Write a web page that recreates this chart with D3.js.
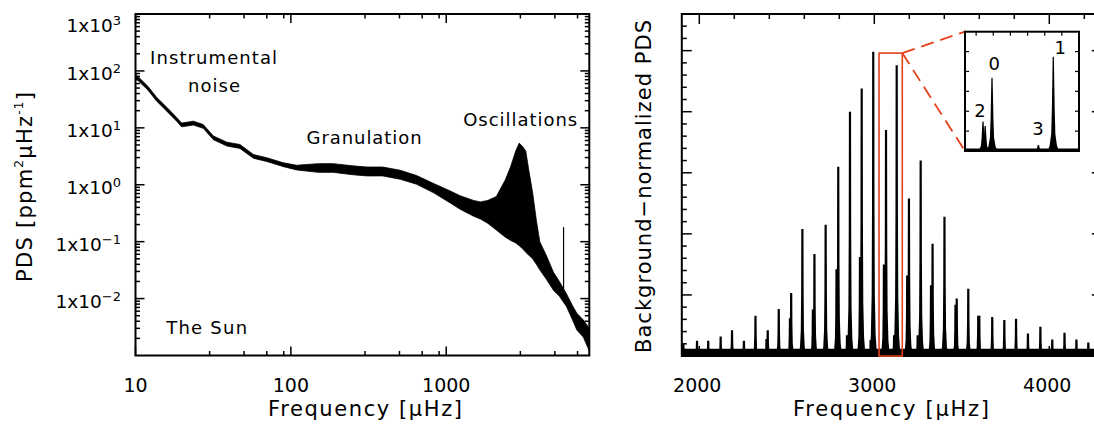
<!DOCTYPE html>
<html><head><meta charset="utf-8">
<script src="https://cdn.jsdelivr.net/npm/d3@7"></script>
<style>
html,body{margin:0;padding:0;background:#fff;}
svg{display:block;font-family:"DejaVu Sans",sans-serif;}
</style></head><body>
<svg id="chart" width="1094" height="428"></svg>
<script>
// ---------------- data: left panel (solar power density spectrum, log-log) ----------------
const pdsFreq = [10, 11, 12, 13.7, 15.9, 18.4, 19.8, 23.6, 27.3, 31.7, 38.7, 47, 57.4, 70, 89.6, 109, 150, 187, 250, 309, 390, 505, 645, 830, 1060, 1230, 1500, 1660, 1850, 2100, 2400, 2600, 2800, 2950, 3100, 3250, 3400, 3600, 3800, 4000, 4400, 4900, 5350, 5950, 6500, 6930, 7630, 8333];
const pdsLow  = [75, 58.3, 46.3, 29.4, 19.6, 13.1, 10.4, 11.2, 9.8, 6.2, 4.8, 4.35, 2.92, 2.56, 2.08, 1.82, 1.65, 1.65, 1.5, 1.43, 1.43, 1.25, 1.02, 0.72, 0.48, 0.37, 0.28, 0.25, 0.21, 0.16, 0.12, 0.105, 0.095, 0.085, 0.075, 0.065, 0.058, 0.05, 0.04, 0.032, 0.022, 0.014, 0.011, 0.0072, 0.0042, 0.0028, 0.0021, 0.0012];
const pdsHigh = [87.5, 68, 54, 34.2, 22.9, 15.2, 12.1, 13.1, 11.4, 7.2, 5.6, 5.1, 3.4, 2.98, 2.43, 2.2, 2.35, 2.35, 2.15, 2.05, 2.05, 1.8, 1.45, 1.05, 0.78, 0.64, 0.53, 0.5, 0.53, 0.62, 1.22, 2.1, 3.9, 5.4, 4.7, 3.9, 1.8, 0.72, 0.24, 0.1, 0.058, 0.029, 0.02, 0.012, 0.0075, 0.0055, 0.0042, 0.003];
const spikeFreq = [5690];
const spikeTop = [0.18];
const spikeBottom = [0.014];
const leftXTickValues = [10, 100, 1000];
const leftXTickLabels = ["10", "100", "1000"];
const leftYTickExponents = [3, 2, 1, 0, -1, -2];
const leftAnnotations = [
  {text: "Instrumental", f: 31.8, v: 132, w: 127},
  {text: "noise", f: 32, v: 43, w: 52},
  {text: "Granulation", f: 296, v: 5.2, w: 115},
  {text: "Oscillations", f: 2992, v: 10.8, w: 114},
  {text: "The Sun", f: 28.7, v: 0.00239, w: 81}
];

// ---------------- data: right panel (background-normalized PDS) ----------------
const modeFreq   = [1909, 1987, 2051, 2122, 2187, 2255, 2321, 2391, 2454, 2525, 2589, 2658, 2722, 2794, 2861, 2928, 2994, 3067, 3128, 3198, 3265, 3333, 3401, 3471, 3537, 3600, 3674, 3743, 3810, 3878, 3949, 4017, 4087, 4155, 4223];
const modeHeight = [1.0, 1.25, 1.25, 1.6, 2.1, 1.25, 3.3, 2.1, 3.85, 5.15, 10.4, 8.35, 10.75, 15.5, 20.0, 21.9, 24.9, 18.5, 23.8, 12.9, 16.0, 9.2, 11.4, 4.7, 5.5, 3.3, 3.2, 2.95, 3.05, 1.85, 2.4, 1.35, 1.9, 1.35, 1.1];
const companionFreq   = [2384, 2518, 2649, 2784, 2844, 2918, 2979, 3055, 3113, 3188, 3248, 3324, 3464, 3594];
const companionHeight = [1.4, 3.1, 3.8, 7.1, 1.7, 8.1, 1.3, 7.5, 1.7, 6.6, 1.7, 5.8, 4.2, 3.3];
const floorFreq  = [1900, 4300];
const floorLevel = [0.6, 0.6];
const rightXTickLabels = ["2000", "3000", "4000"];
const zoomBox = {f0: 3027, f1: 3160, top: 24.8};

// inset (zoom on one radial order)
const insetFreq   = [3048, 3050.5, 3058.5, 3112.6, 3130];
const insetHeight = [7.4, 6.3, 18.4, 1.5, 23.7];
const insetFloor  = [0.65, 0.65];
const insetLabels = ["2", "0", "3", "1"];
const insetLabelFreq = [3044.5, 3061, 3112, 3138];
const insetLabelVal  = [8.6, 20.4, 3.9, 24.4];

// ---------------- drawing ----------------
const svg = d3.select("#chart");
const RED = "#e4411b";

function sup(sel, base, exp, supSize, rise) {
  sel.append("tspan").text(base);
  sel.append("tspan").attr("font-size", supSize).attr("dy", -rise).text(exp);
}

// ===== LEFT PANEL =====
const L = {x0: 135.5, x1: 589.3, y0: 14, y1: 355.5};
const xL = d3.scaleLog().domain([10, 8333]).range([L.x0, L.x1]);
const yL = d3.scaleLog().domain([1e-3, 1e3]).range([L.y1, L.y0]);

const lp = svg.append("g");
lp.append("defs").append("clipPath").attr("id", "clipL")
  .append("rect").attr("x", L.x0).attr("y", L.y0).attr("width", L.x1 - L.x0).attr("height", L.y1 - L.y0);

const bandData = pdsFreq.map((f, i) => ({f, lo: pdsLow[i], hi: pdsHigh[i]}));
lp.append("path")
  .attr("clip-path", "url(#clipL)")
  .attr("d", d3.area().x(d => xL(d.f)).y0(d => yL(d.lo)).y1(d => yL(d.hi))(bandData))
  .attr("fill", "#000").attr("stroke", "#000").attr("stroke-width", 0.8).attr("stroke-linejoin", "round");

lp.selectAll(".spike").data(spikeFreq).join("line")
  .attr("x1", d => xL(d)).attr("x2", d => xL(d))
  .attr("y1", (d, i) => yL(spikeBottom[i])).attr("y2", (d, i) => yL(spikeTop[i]))
  .attr("stroke", "#000").attr("stroke-width", 1.2);

// ticks
const lMinorX = [];
[10, 100, 1000].forEach(dec => [3, 5, 7, 9].forEach(m => { if (dec * m <= 8333) lMinorX.push(dec * m); }));
const lMinorY = [];
[1e-3, 1e-2, 1e-1, 1, 10, 100].forEach(dec => [2, 3, 4, 5, 6, 7, 8, 9].forEach(m => lMinorY.push(dec * m)));

function tickLines(g, vals, scale, orient, len, x0, x1, y0, y1) {
  vals.forEach(v => {
    const p = scale(v);
    if (orient === "x") {
      g.append("line").attr("x1", p).attr("x2", p).attr("y1", y1).attr("y2", y1 - len);
      g.append("line").attr("x1", p).attr("x2", p).attr("y1", y0).attr("y2", y0 + len);
    } else {
      g.append("line").attr("y1", p).attr("y2", p).attr("x1", x0).attr("x2", x0 + len);
      g.append("line").attr("y1", p).attr("y2", p).attr("x1", x1).attr("x2", x1 - len);
    }
  });
}
const lt = lp.append("g").attr("stroke", "#000").attr("stroke-width", 1.5);
tickLines(lt, leftXTickValues, xL, "x", 9, L.x0, L.x1, L.y0, L.y1);
tickLines(lt, lMinorX, xL, "x", 4.5, L.x0, L.x1, L.y0, L.y1);
tickLines(lt, leftYTickExponents.map(e => Math.pow(10, e)), yL, "y", 9, L.x0, L.x1, L.y0, L.y1);
tickLines(lt, lMinorY, yL, "y", 4.5, L.x0, L.x1, L.y0, L.y1);

lp.append("rect").attr("x", L.x0).attr("y", L.y0).attr("width", L.x1 - L.x0).attr("height", L.y1 - L.y0)
  .attr("fill", "none").attr("stroke", "#000").attr("stroke-width", 2);

// tick labels
leftXTickValues.forEach((v, i) => {
  lp.append("text").attr("x", xL(v)).attr("y", 392).attr("text-anchor", "middle")
    .attr("font-size", 19).text(leftXTickLabels[i]);
});
leftYTickExponents.forEach(e => {
  const y = yL(Math.pow(10, e)) + (e === 3 ? 18 : 9);
  const t = lp.append("text").attr("x", 121).attr("y", y).attr("text-anchor", "end").attr("font-size", 18.5);
  sup(t, "1x10", e < 0 ? "\u2212" + (-e) : String(e), 13, 7);
});

// annotations
leftAnnotations.forEach(a => {
  lp.append("text").attr("x", xL(a.f)).attr("y", yL(a.v)).attr("font-size", 18)
    .attr("text-anchor", "middle").attr("textLength", a.w).attr("lengthAdjust", "spacing").text(a.text);
});

// axis titles
lp.append("text").attr("x", 365).attr("y", 416).attr("text-anchor", "middle").attr("font-size", 21)
  .attr("textLength", 194).attr("lengthAdjust", "spacing").text("Frequency [\u03bcHz]");
const ly = lp.append("text").attr("transform", "translate(31.5,187) rotate(-90)")
  .attr("text-anchor", "middle").attr("font-size", 21)
  .attr("textLength", 190).attr("lengthAdjust", "spacing");
ly.append("tspan").text("PDS [ppm");
ly.append("tspan").attr("font-size", 12).attr("dy", -9).text("2");
ly.append("tspan").attr("dy", 9).text("\u03bcHz");
ly.append("tspan").attr("font-size", 12).attr("dy", -9).text("-1");
ly.append("tspan").attr("dy", 9).text("]");

// ===== RIGHT PANEL =====
const R = {x0: 681.8, x1: 1101.8, y0: 14, y1: 356};
const xR = d3.scaleLinear().domain([1900, 4300]).range([R.x0, R.x1]);
const yR = d3.scaleLinear().domain([0, 28]).range([R.y1, R.y0]);

const rp = svg.append("g");
rp.append("defs").append("clipPath").attr("id", "clipR")
  .append("rect").attr("x", R.x0).attr("y", R.y0).attr("width", R.x1 - R.x0).attr("height", R.y1 - R.y0);
const rc = rp.append("g").attr("clip-path", "url(#clipR)");

const floorData = floorFreq.map((f, i) => ({f, v: floorLevel[i]}));
rc.append("path")
  .attr("d", d3.area().x(d => xR(d.f)).y0(yR(0)).y1(d => yR(d.v))(floorData))
  .attr("fill", "#000");

function peakPath(xs, ys, f, h, prof) {
  const cx = xs(f);
  const left = prof.map(([dx, fr]) => [cx - dx, ys(h * fr)]);
  const right = prof.slice().reverse().map(([dx, fr]) => [cx + dx, ys(h * fr)]);
  return d3.line()([...left, ...right]) + "Z";
}
const mainProfile = [[3.8, 0], [2.4, 0.07], [1.6, 0.2], [1.25, 0.5], [1.1, 1]];
rc.selectAll(".comp").data(companionFreq).join("path")
  .attr("d", (d, i) => peakPath(xR, yR, d, companionHeight[i], mainProfile))
  .attr("fill", "#000");
rc.selectAll(".mode").data(modeFreq).join("path")
  .attr("d", (d, i) => peakPath(xR, yR, d, modeHeight[i], mainProfile))
  .attr("fill", "#000");

// ticks
const rMajorX = [2000, 3000, 4000];
const rMinorX = d3.range(2000, 4301, 200).filter(v => v % 1000 !== 0);
const rMajorY = d3.range(0, 28.1, 5);
const rMinorY = d3.range(1, 28.1, 1).filter(v => v % 5 !== 0);
const rt = rp.append("g").attr("stroke", "#000").attr("stroke-width", 1.5);
tickLines(rt, rMajorX, xR, "x", 10, R.x0, R.x1, R.y0, R.y1);
tickLines(rt, rMinorX, xR, "x", 5, R.x0, R.x1, R.y0, R.y1);
tickLines(rt, rMajorY, yR, "y", 10, R.x0, R.x1, R.y0, R.y1);
tickLines(rt, rMinorY, yR, "y", 5, R.x0, R.x1, R.y0, R.y1);

rp.append("rect").attr("x", R.x0).attr("y", R.y0).attr("width", R.x1 - R.x0).attr("height", R.y1 - R.y0)
  .attr("fill", "none").attr("stroke", "#000").attr("stroke-width", 2);

rMajorX.forEach((v, i) => {
  rp.append("text").attr("x", xR(v) - 2).attr("y", 392).attr("text-anchor", "middle")
    .attr("font-size", 19).text(rightXTickLabels[i]);
});
rp.append("text").attr("x", 891).attr("y", 416).attr("text-anchor", "middle").attr("font-size", 21)
  .attr("textLength", 196).attr("lengthAdjust", "spacing").text("Frequency [\u03bcHz]");
rp.append("text").attr("transform", "translate(651,186.5) rotate(-90)").attr("text-anchor", "middle")
  .attr("font-size", 21).attr("textLength", 333).attr("lengthAdjust", "spacing")
  .text("Background\u2212normalized PDS");

// zoom box
rp.append("rect")
  .attr("x", xR(zoomBox.f0)).attr("y", yR(zoomBox.top))
  .attr("width", xR(zoomBox.f1) - xR(zoomBox.f0)).attr("height", yR(0) - yR(zoomBox.top))
  .attr("fill", "none").attr("stroke", RED).attr("stroke-width", 1.6);

// inset
const I = {x0: 965, x1: 1079, y0: 31.7, y1: 151};
const xI = d3.scaleLinear().domain([zoomBox.f0, zoomBox.f1]).range([I.x0, I.x1]);
const yI = d3.scaleLinear().domain([0, 30]).range([I.y1, I.y0]);

const dash = rp.append("g").attr("stroke", RED).attr("stroke-width", 1.8).attr("stroke-dasharray", "13,7");
dash.append("line").attr("x1", xR(zoomBox.f1)).attr("y1", yR(zoomBox.top)).attr("x2", I.x0).attr("y2", I.y0);
dash.append("line").attr("x1", xR(zoomBox.f1)).attr("y1", yR(zoomBox.top)).attr("x2", I.x0).attr("y2", I.y1);

const ig = rp.append("g");
ig.append("rect").attr("x", I.x0).attr("y", I.y0).attr("width", I.x1 - I.x0).attr("height", I.y1 - I.y0).attr("fill", "#fff");
ig.append("path")
  .attr("d", d3.area().x(d => xI(d)).y0(yI(0)).y1((d, i) => yI(insetFloor[i]))([zoomBox.f0, zoomBox.f1]))
  .attr("fill", "#000");
const insetProfile = [[5.5, 0], [3.6, 0.06], [2.1, 0.18], [1.4, 0.45], [0.9, 0.8], [0.6, 1]];
ig.selectAll(".ipk").data(insetFreq).join("path")
  .attr("d", (d, i) => peakPath(xI, yI, d, insetHeight[i], insetProfile))
  .attr("fill", "#000");
const it = ig.append("g").attr("stroke", "#000").attr("stroke-width", 1.2);
tickLines(it, d3.range(5, 30, 5), yI, "y", 4, I.x0, I.x1, I.y0, I.y1);
d3.range(3040, 3160, 20).forEach(v => {
  it.append("line").attr("x1", xI(v)).attr("x2", xI(v)).attr("y1", I.y0).attr("y2", I.y0 + 4);
});
ig.append("rect").attr("x", I.x0).attr("y", I.y0).attr("width", I.x1 - I.x0).attr("height", I.y1 - I.y0)
  .attr("fill", "none").attr("stroke", "#000").attr("stroke-width", 2);
insetLabels.forEach((s, i) => {
  ig.append("text").attr("x", xI(insetLabelFreq[i])).attr("y", yI(insetLabelVal[i]))
    .attr("text-anchor", "middle").attr("font-size", 18).text(s);
});
</script>
</body></html>
